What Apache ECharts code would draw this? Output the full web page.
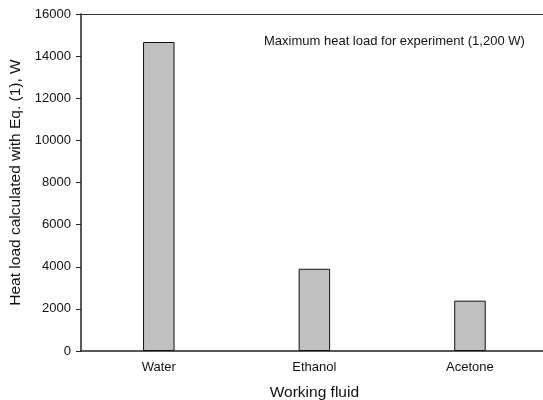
<!DOCTYPE html>
<html>
<head>
<meta charset="utf-8">
<script src="https://cdn.jsdelivr.net/npm/echarts@6/dist/echarts.min.js"></script>
<style>html,body{margin:0;padding:0;background:#fff;}#c{width:543px;height:400px;}</style>
</head>
<body>
<div id="c"></div>
<script>
const categories = ['Water', 'Ethanol', 'Acetone'];
const heatLoad = [14670, 3905, 2390];
const yTicks = [0, 2000, 4000, 6000, 8000, 10000, 12000, 14000, 16000];
const xAxisTitle = 'Working fluid';
const yAxisTitle = 'Heat load calculated with Eq. (1), W';
const annotation = 'Maximum heat load for experiment (1,200 W)';

const font = 'Arial, "Liberation Sans", sans-serif';
const chart = echarts.init(document.getElementById('c'), null, {renderer: 'canvas'});
chart.setOption({
  animation: false,
  backgroundColor: '#fff',
  grid: {left: 81, top: 14, right: -4.75, bottom: 49, show: false, outerBoundsMode: 'none', containLabel: false},
  title: {
    text: annotation, left: 264, top: 35, padding: 0,
    textStyle: {fontFamily: font, fontSize: 13, fontWeight: 'normal', color: '#111'}
  },
  xAxis: [{
    type: 'category', data: categories,
    name: xAxisTitle, nameLocation: 'middle', nameGap: 34,
    nameTextStyle: {fontFamily: font, fontSize: 15.5, color: '#111'},
    axisLine: {lineStyle: {color: '#222', width: 1.5}},
    axisTick: {alignWithLabel: true, length: 4, lineStyle: {color: '#222'}},
    axisLabel: {fontFamily: font, fontSize: 13, color: '#111', margin: 10},
    splitLine: {show: false}
  }, {
    type: 'category', data: categories, position: 'top',
    axisLine: {show: true, lineStyle: {color: '#333', width: 1.2}},
    axisTick: {show: false}, axisLabel: {show: false}, splitLine: {show: false}
  }],
  yAxis: {
    type: 'value', min: yTicks[0], max: yTicks[yTicks.length - 1], interval: yTicks[1] - yTicks[0],
    name: yAxisTitle, nameLocation: 'middle', nameGap: 56, nameRotate: 90,
    nameTextStyle: {fontFamily: font, fontSize: 15.5, color: '#111'},
    axisLine: {show: true, lineStyle: {color: '#222', width: 1.5}},
    axisTick: {show: true, length: 5, lineStyle: {color: '#222'}},
    axisLabel: {fontFamily: font, fontSize: 13, color: '#111', margin: 10, formatter: v => String(v)},
    splitLine: {show: false}
  },
  series: [{
    type: 'bar', data: heatLoad, barWidth: 31.5, xAxisIndex: 0,
    itemStyle: {color: '#c0c0c0', borderColor: '#111', borderWidth: 1}
  }]
});
</script>
</body>
</html>
